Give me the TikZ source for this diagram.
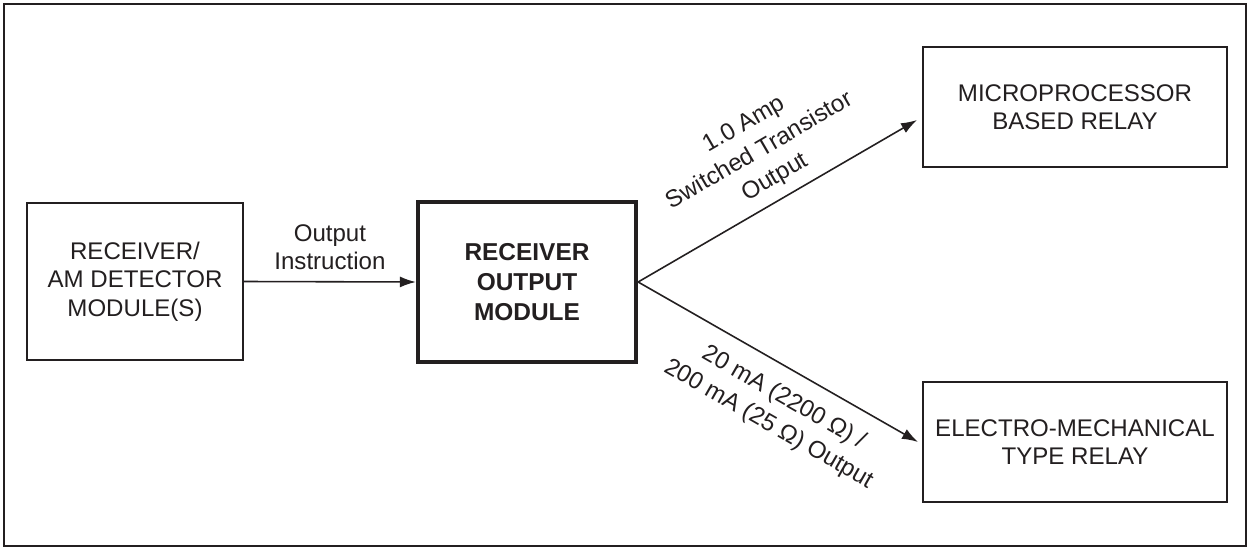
\documentclass[tikz,border=0pt]{standalone}
\usepackage{fontspec}
\setmainfont{Liberation Sans}
\usepackage{xcolor}
\usepackage{tikz}
\usetikzlibrary{arrows.meta, positioning, calc}
\definecolor{rlink}{RGB}{35,31,32}

\begin{document}
\begin{tikzpicture}[x=1cm, y=1cm,
  blk/.style={draw=rlink, text=rlink, line width=1.1pt, align=center,
    inner sep=0pt, font=\fontsize{13.7}{16.2}\selectfont},
  blkthick/.style={blk, line width=2.4pt,
    font=\fontsize{13.9}{17.2}\selectfont\bfseries},
  flow/.style={draw=rlink, line width=0.9pt,
    -{Latex[length=3.2mm, width=2.2mm]}},
  lbl/.style={text=rlink, align=center, font=\fontsize{13.7}{16.2}\selectfont},
  tiltlbl/.style={lbl, sloped, font=\fontsize{13.7}{17.4}\selectfont}]
% outer
\fill[white] (0,0) rectangle (24.96,10.96);
\draw[rlink, line width=1.1pt] (0.08,0.04) rectangle (24.92,10.88);

% ---- blocks ----
\node[blk, minimum width=4.32cm, minimum height=3.14cm] (det) at (2.70,5.33)
  {RECEIVER/\\AM DETECTOR\\MODULE(S)};
\node[blkthick, minimum width=4.36cm, minimum height=3.2cm] (rom) at (10.54,5.32)
  {RECEIVER\\OUTPUT\\MODULE};
\node[blk, minimum width=6.08cm, minimum height=2.4cm] (micro) at (21.50,8.82)
  {MICROPROCESSOR\\BASED RELAY};
\node[blk, minimum width=6.08cm, minimum height=2.4cm] (emech) at (21.50,2.12)
  {ELECTRO-MECHANICAL\\TYPE RELAY};

% ---- connectors ----
\coordinate (microin) at ($(micro.west)+(-0.1,-0.26)$);
\coordinate (emechin) at ($(emech.west)+(-0.08,0)$);
\draw[flow] (det.east) -- node[lbl, above=3pt] {Output\\Instruction} (rom.west);
\draw[flow] (rom.east) -- node[tiltlbl, above=2pt, pos=0.53]
  {1.0 Amp\\Switched Transistor\\Output} (microin);
\draw[flow] (rom.east) -- node[tiltlbl, below=6pt, pos=0.57]
  {20 mA (2200 Ω) /\\200 mA (25 Ω) Output} (emechin);
\end{tikzpicture}
\end{document}
